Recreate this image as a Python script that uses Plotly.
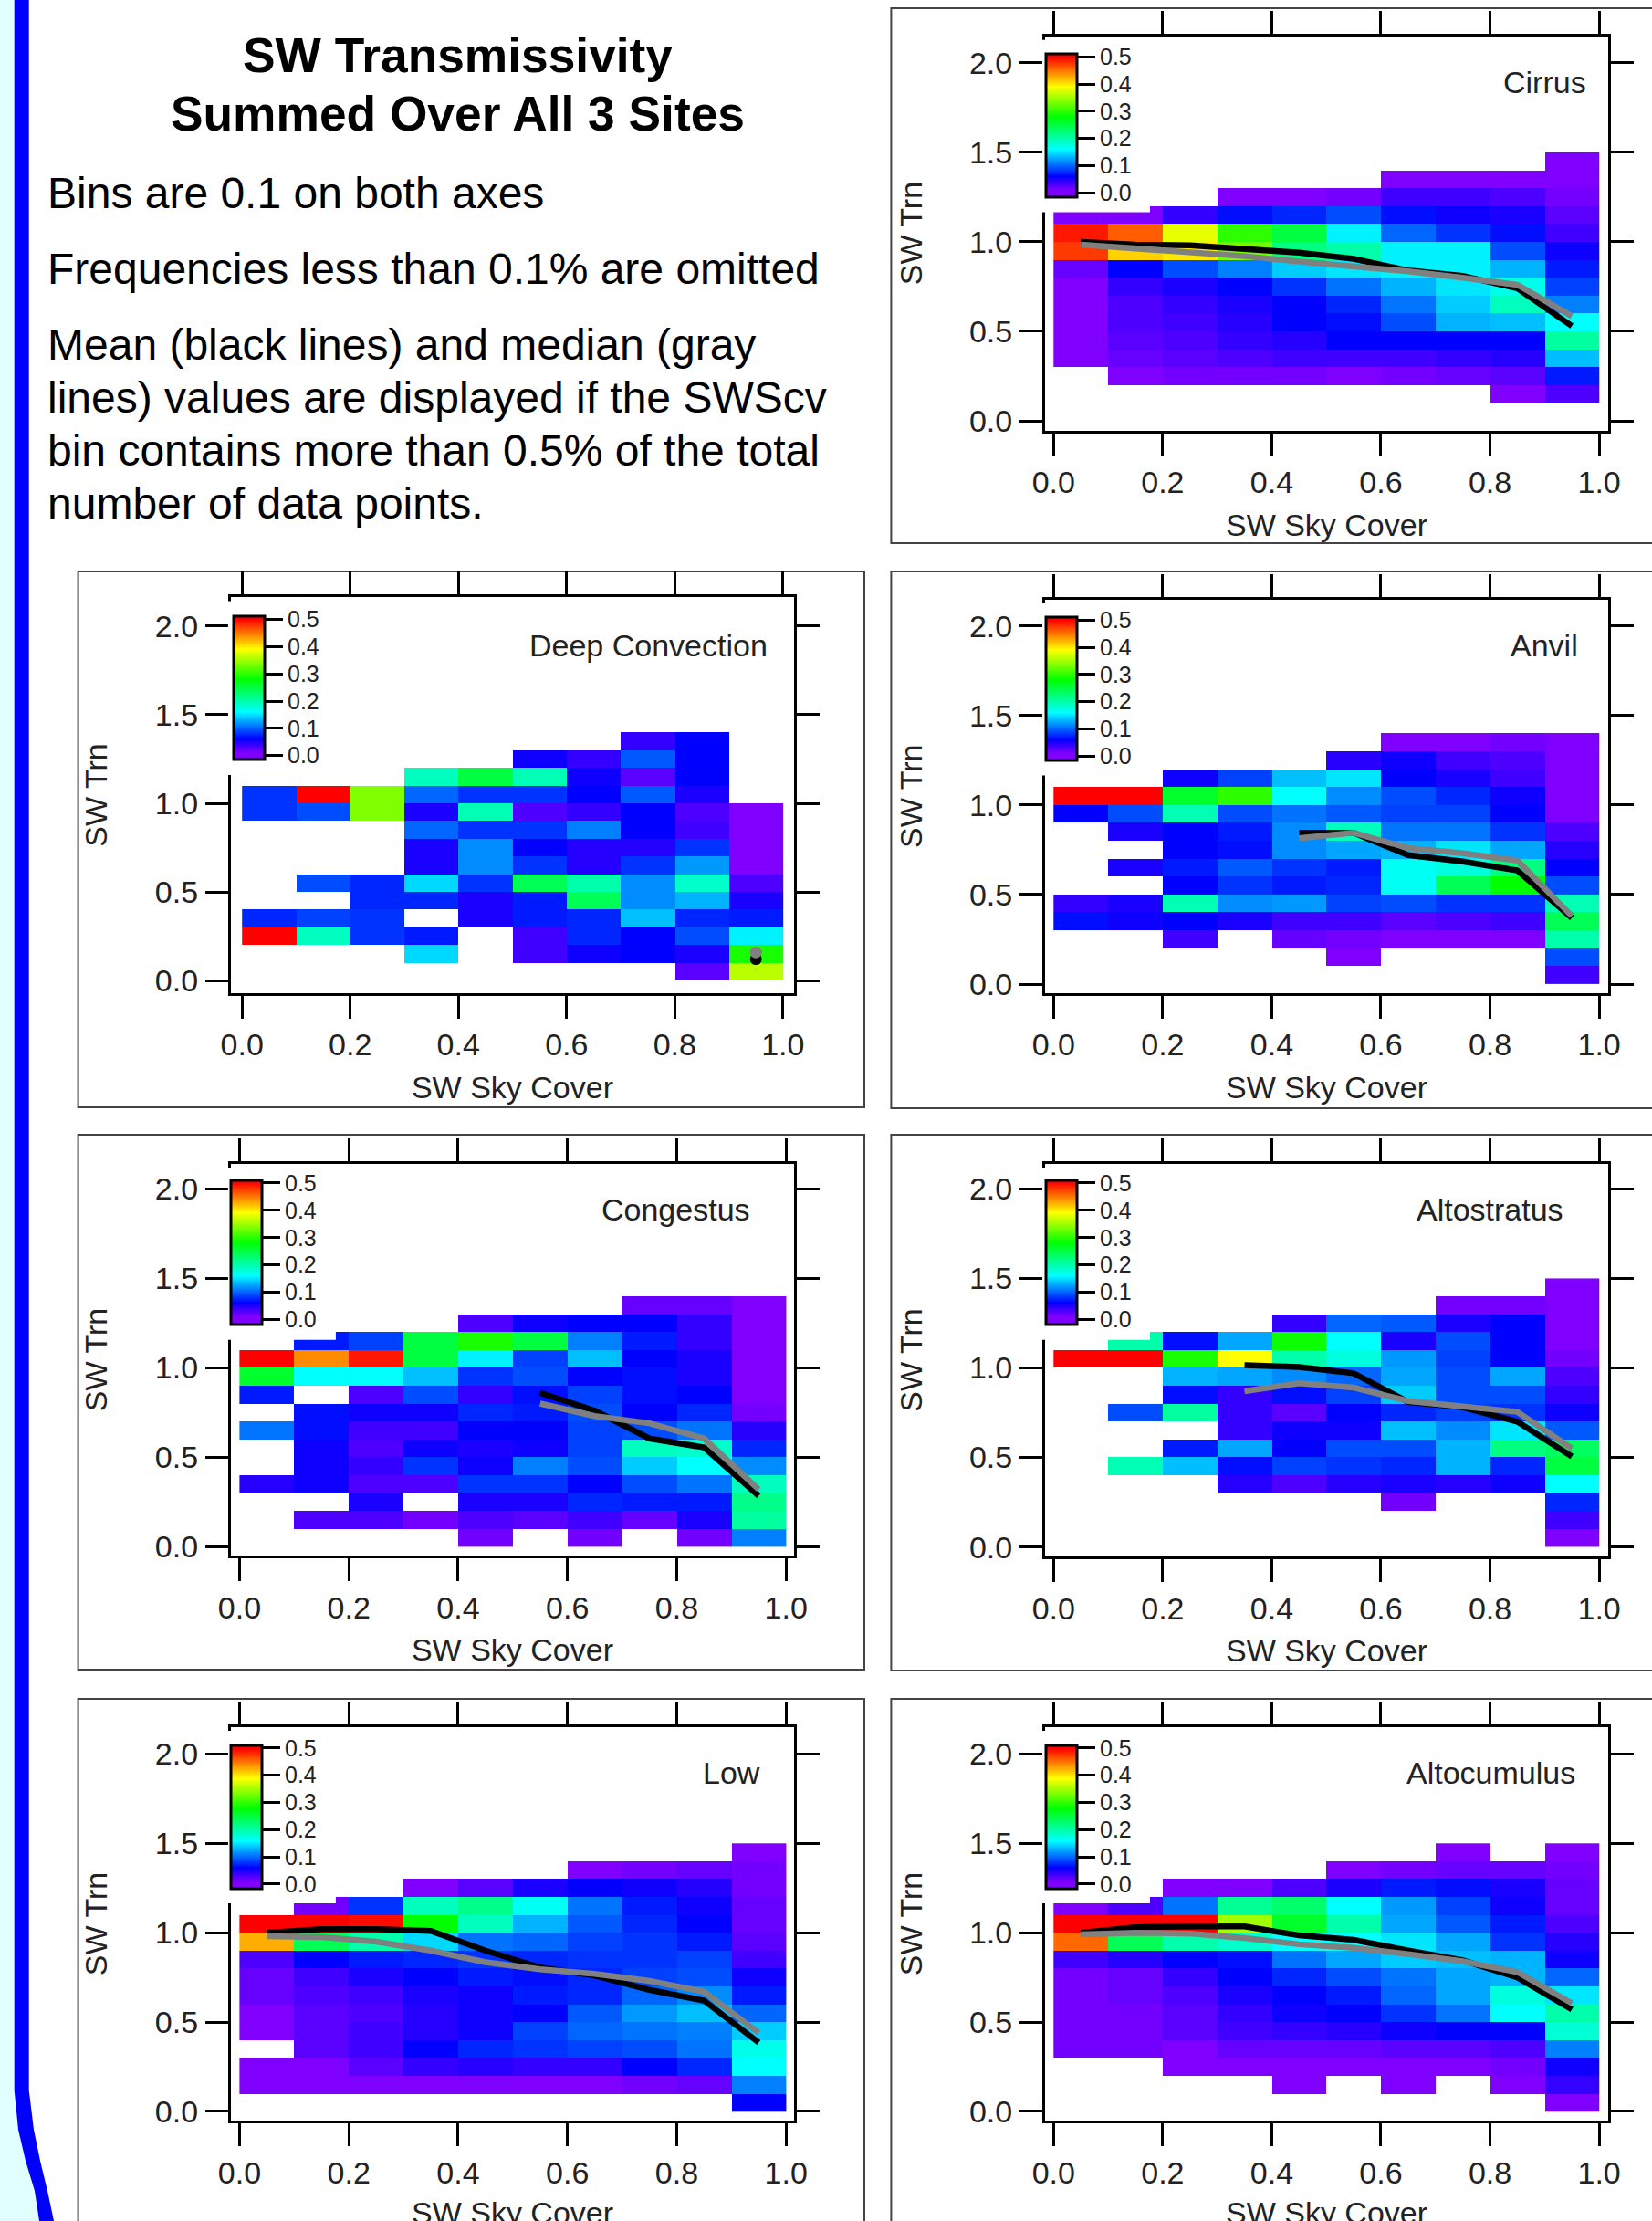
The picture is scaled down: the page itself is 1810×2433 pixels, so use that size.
import plotly.graph_objects as go

N = None
SKY_EDGES = [round(i * 0.1, 1) for i in range(11)]
TRN_EDGES = [round(i * 0.1, 1) for i in range(16)]
SKY_MID = [round(0.05 + i * 0.1, 2) for i in range(10)]
X_TICKS = [0.0, 0.2, 0.4, 0.6, 0.8, 1.0]
Y_TICKS = [0.0, 0.5, 1.0, 1.5, 2.0]
CB_TICKS = [0.0, 0.1, 0.2, 0.3, 0.4, 0.5]

# Rows run from SW Trn 1.4-1.5 (first) down to 0.0-0.1 (last)
CIRRUS = [
    [N, N, N, N, N, N, N, N, N, .01],
    [N, N, N, N, N, N, .01, .01, .01, .01],
    [N, N, N, .01, .01, .015, .035, .035, .03, .015],
    [.01, .01, .04, .065, .075, .09, .065, .055, .05, .025],
    [.49, .46, .38, .30, .25, .155, .10, .08, .065, .035],
    [.475, .41, .40, .33, .22, .20, .155, .155, .09, .055],
    [.02, .06, .09, .11, .14, .15, .155, .155, .13, .07],
    [.01, .04, .05, .06, .08, .105, .13, .15, .17, .085],
    [.01, .03, .04, .05, .06, .075, .105, .14, .19, .11],
    [.01, .03, .035, .045, .06, .065, .09, .13, .135, .16],
    [.01, .025, .03, .04, .045, .06, .06, .06, .06, .205],
    [.01, .02, .025, .03, .035, .035, .035, .04, .045, .135],
    [N, .01, .015, .015, .015, .01, .015, .02, .025, .07],
    [N, N, N, N, N, N, N, N, .01, .03],
    [N, N, N, N, N, N, N, N, N, N],
]
DEEP = [
    [N, N, N, N, N, N, N, N, N, N],
    [N, N, N, N, N, N, N, .04, .06, N],
    [N, N, N, N, N, .055, .04, .095, .06, N],
    [N, N, N, .19, .25, .195, .055, .025, .06, N],
    [.08, .5, .335, .10, .08, .08, .06, .095, .05, N],
    [.08, .09, .335, .05, .195, .03, .04, .06, .03, .01],
    [N, N, N, .10, .08, .08, .11, .06, .035, .01],
    [N, N, N, .05, .115, .06, .045, .045, .08, .01],
    [N, N, N, .05, .115, .08, .045, .08, .12, .01],
    [N, .09, .075, .145, .08, .24, .20, .115, .185, .03],
    [N, N, .075, .075, .05, .07, .24, .115, .13, .05],
    [.075, .085, .08, N, .05, .07, .075, .135, .075, .07],
    [.5, .19, .08, .07, N, .035, .075, .06, .09, .155],
    [N, N, N, .145, N, .035, .055, .06, .05, .29],
    [N, N, N, N, N, N, N, N, .025, .36],
]
ANVIL = [
    [N, N, N, N, N, N, N, N, N, N],
    [N, N, N, N, N, N, .01, .01, .015, .01],
    [N, N, N, N, N, .045, .055, .035, .03, .01],
    [N, N, .055, .085, .135, .15, .06, .05, .035, .01],
    [.5, .5, .26, .30, .16, .115, .09, .075, .055, .01],
    [.06, .09, .195, .09, .105, .095, .085, .085, .06, .01],
    [N, .05, .06, .07, .115, .19, .105, .105, .08, .03],
    [N, N, .06, .065, .115, .125, .13, .15, .125, .045],
    [N, .05, .07, .095, .08, .07, .165, .175, .22, .06],
    [N, N, .06, .08, .07, .075, .165, .24, .28, .09],
    [.04, .05, .195, .115, .12, .085, .09, .08, .08, .195],
    [.065, .055, .06, .05, .035, .035, .025, .03, .035, .24],
    [N, N, .035, N, .02, .015, .01, .01, .01, .20],
    [N, N, N, N, N, .01, N, N, N, .09],
    [N, N, N, N, N, N, N, N, N, .035],
]
CONGESTUS = [
    [N, N, N, N, N, N, N, N, N, N],
    [N, N, N, N, N, N, N, .02, .02, .01],
    [N, N, N, N, .03, .055, .06, .06, .04, .01],
    [N, .07, .085, .25, .29, .25, .11, .07, .04, .01],
    [.5, .44, .49, .25, .155, .085, .135, .06, .05, .01],
    [.26, .16, .16, .135, .08, .09, .06, .065, .05, .01],
    [.07, N, .03, .09, .04, .065, .085, .065, .06, .01],
    [N, .065, .055, .055, .075, .07, .09, .06, .075, .015],
    [.105, .065, .035, .035, .06, .06, .085, .09, .105, .045],
    [N, .055, .03, .055, .05, .055, .085, .19, .185, .075],
    [N, .055, .04, .08, .055, .11, .09, .14, .16, .115],
    [.045, .055, .03, .03, .08, .08, .06, .09, .105, .19],
    [N, N, .05, N, .05, .05, .075, .07, .07, .215],
    [N, .03, .03, .015, .03, .025, .035, .02, .05, .205],
    [N, N, N, N, .015, N, .015, N, .015, .11],
]
ALTOSTRATUS = [
    [N, N, N, N, N, N, N, N, N, .01],
    [N, N, N, N, N, N, N, .015, .015, .01],
    [N, N, N, N, .04, .10, .095, .05, .06, .01],
    [N, .20, .065, .125, .285, .16, .05, .09, .06, .01],
    [.5, .5, .29, .39, .20, .175, .12, .085, .06, .015],
    [N, N, .13, .125, .115, .10, .125, .09, .125, .03],
    [N, N, .065, .04, .065, .085, .14, .09, .09, .04],
    [N, .09, .205, .04, .025, .06, .075, .085, .08, .055],
    [N, N, N, .04, .055, .055, .135, .115, .15, .095],
    [N, N, .07, .125, .06, .09, .09, .13, .22, .235],
    [N, .195, .135, .065, .085, .08, .075, .13, .075, .25],
    [N, N, N, .045, .03, .045, .05, .045, .055, .16],
    [N, N, N, N, N, N, .015, N, N, .075],
    [N, N, N, N, N, N, N, N, N, .035],
    [N, N, N, N, N, N, N, N, N, .01],
]
LOW = [
    [N, N, N, N, N, N, N, N, N, .01],
    [N, N, N, N, N, N, .01, .015, .02, .015],
    [N, N, N, .01, .025, .05, .06, .055, .045, .015],
    [N, .015, .08, .19, .215, .165, .105, .07, .055, .02],
    [.5, .5, .495, .28, .19, .13, .095, .075, .06, .02],
    [.425, .24, .20, .145, .105, .10, .085, .08, .07, .025],
    [.03, .06, .07, .075, .08, .075, .08, .08, .085, .035],
    [.02, .035, .05, .06, .07, .065, .075, .085, .09, .055],
    [.02, .03, .035, .05, .055, .07, .075, .10, .115, .07],
    [.01, .025, .03, .045, .055, .06, .095, .12, .135, .10],
    [.01, .025, .035, .045, .055, .085, .10, .105, .11, .14],
    [N, .025, .035, .06, .075, .08, .085, .09, .105, .17],
    [.01, .01, .025, .04, .045, .04, .04, .06, .075, .16],
    [.01, .01, .01, .01, .01, .01, .01, .015, .02, .11],
    [N, N, N, N, N, N, N, N, N, .06],
]
ALTOCUMULUS = [
    [N, N, N, N, N, N, N, .01, N, .01],
    [N, N, N, N, N, .01, .015, .02, .02, .015],
    [N, N, .01, .01, .03, .05, .07, .065, .05, .02],
    [.01, .03, .105, .21, .23, .16, .12, .085, .055, .02],
    [.5, .5, .5, .35, .26, .20, .125, .095, .07, .03],
    [.455, .24, .20, .185, .16, .16, .15, .125, .08, .045],
    [.035, .045, .06, .065, .105, .125, .14, .135, .13, .055],
    [.015, .02, .04, .06, .075, .09, .105, .125, .13, .10],
    [.015, .02, .03, .05, .06, .07, .10, .125, .175, .15],
    [.015, .015, .025, .04, .055, .06, .08, .105, .16, .20],
    [.015, .015, .025, .035, .04, .045, .055, .06, .06, .18],
    [.015, .015, .01, .02, .02, .02, .025, .025, .03, .11],
    [N, N, .01, .01, .01, .01, .01, .01, .015, .055],
    [N, N, N, N, .01, N, .01, N, .01, .04],
    [N, N, N, N, N, N, N, N, N, .01],
]

CIRRUS_MEAN = [1.0, .985, .98, .96, .94, .905, .84, .81, .74, .53]
CIRRUS_MEDIAN = [.985, .965, .945, .92, .89, .865, .835, .80, .76, .585]
DEEP_MEAN = [N, N, N, N, N, N, N, N, N, .122]
DEEP_MEDIAN = [N, N, N, N, N, N, N, N, N, .16]
ANVIL_MEAN = [N, N, N, N, .845, .845, .72, .685, .635, .37]
ANVIL_MEDIAN = [N, N, N, N, .815, .845, .76, .73, .69, .38]
CONGESTUS_MEAN = [N, N, N, N, N, .86, .76, .605, .555, .285]
CONGESTUS_MEDIAN = [N, N, N, N, N, .80, .73, .69, .605, .32]
ALTOSTRATUS_MEAN = [N, N, N, 1.015, 1.005, .97, .81, .78, .70, .505]
ALTOSTRATUS_MEDIAN = [N, N, N, .87, .915, .89, .815, .785, .755, .55]
LOW_MEAN = [1.0, 1.02, 1.02, 1.01, .90, .805, .76, .68, .62, .385]
LOW_MEDIAN = [.98, .975, .95, .90, .835, .795, .77, .73, .67, .44]
ALTOCUMULUS_MEAN = [1.0, 1.03, 1.035, 1.035, .985, .96, .90, .845, .75, .57]
ALTOCUMULUS_MEDIAN = [.99, 1.0, .995, .97, .935, .915, .88, .84, .78, .605]

# Colour stops: frequency value and colour
STOP_VALUES = [0.01, 0.06, 0.16, 0.28, 0.39, 0.5]
STOP_COLORS = ["#8000ff", "#0000ff", "#00ffff", "#00ff00", "#ffff00", "#ff0000"]
ZMIN, ZMAX = -0.016, 0.511

TITLE_LINES = ["SW Transmissivity", "Summed Over All 3 Sites"]
BODY_LINES = [
    "Bins are 0.1 on both axes",
    "Frequencies less than 0.1% are omitted",
    "Mean (black lines) and median (gray",
    "lines) values are displayed if the SWScv",
    "bin contains more than 0.5% of the total",
    "number of data points.",
]

W, H = 1810, 2433
FONT = "Liberation Sans"
TXT = "#222222"


def px(x):
    return x / W


def py(y):
    return 1 - y / H


# name, z, mean, median, box(l,r,t,b), x0px, x1px, y2px, y0px, frame(l,t,r,b),
# label right edge, label y, colourbar(left, top, bottom), spine start, x-title y (bottom row only)
PANELS = [
    ("Cirrus", CIRRUS, CIRRUS_MEAN, CIRRUS_MEDIAN, (1145, 1762, 39.7, 471.5), 1154.3, 1752.1, 68.9, 461,
     (976.4, 9, 1830, 595), 1740, 89.5, 1145.7, 59, 216, 232.6, None),
    ("Deep Convection", DEEP, DEEP_MEAN, DEEP_MEDIAN, (252.9, 870, 654.4, 1087.6), 265.2, 857.8, 685.8, 1074.3,
     (85.6, 626, 947, 1213), 843, 707.3, 255.7, 675.5, 832.4, 849, None),
    ("Anvil", ANVIL, ANVIL_MEAN, ANVIL_MEDIAN, (1145, 1762, 657, 1087.6), 1154.3, 1752.1, 685.8, 1078,
     (976.4, 626, 1830, 1214), 1731, 707.3, 1145.7, 676, 833, 849.6, None),
    ("Congestus", CONGESTUS, CONGESTUS_MEAN, CONGESTUS_MEDIAN, (252.9, 870, 1275, 1704), 262.4, 861.2, 1302.4, 1694.3,
     (85.6, 1243, 947, 1829), 824, 1324.5, 252.9, 1292.8, 1450.5, 1467.7, None),
    ("Altostratus", ALTOSTRATUS, ALTOSTRATUS_MEAN, ALTOSTRATUS_MEDIAN, (1145, 1762, 1275, 1705), 1154.3, 1752.1, 1302.4, 1694.6,
     (976.4, 1243, 1830, 1830), 1715, 1324.5, 1145.7, 1292.8, 1450.5, 1467.7, None),
    ("Low", LOW, LOW_MEAN, LOW_MEDIAN, (252.9, 870, 1892, 2323), 262.4, 861.2, 1921.4, 2312.9,
     (85.6, 1861, 947, 2460), 835, 1941.5, 252.9, 1911.3, 2068.6, 2085, 2424),
    ("Altocumulus", ALTOCUMULUS, ALTOCUMULUS_MEAN, ALTOCUMULUS_MEDIAN, (1145, 1762, 1892, 2323), 1154.3, 1752.1, 1921.4, 2312.9,
     (976.4, 1861, 1830, 2460), 1728, 1941.5, 1145.7, 1911.3, 2068.6, 2085, 2424),
]

scale = [[(v - ZMIN) / (ZMAX - ZMIN), c] for v, c in zip(STOP_VALUES, STOP_COLORS)]
scale = [[0, STOP_COLORS[0]]] + scale + [[1, STOP_COLORS[-1]]]

fig = go.Figure()
layout = {}
shapes = []
annotations = []

# Page background strip
BLUE_LEFT = [(0, 0), (15.7, 0), (15.7, 2290), (16.7, 2300), (20, 2333), (28, 2367), (38, 2400), (43, 2433), (0, 2433)]
BLUE_RIGHT = [(15.7, 0), (31.7, 0), (31.7, 2290), (33, 2300), (37, 2333), (44, 2367), (52, 2400), (59, 2433),
              (43, 2433), (38, 2400), (28, 2367), (20, 2333), (16.7, 2300), (15.7, 2290)]


def path(points):
    return "M" + " L".join(f"{px(x):.5f},{py(y):.5f}" for x, y in points) + " Z"


shapes.append(dict(type="path", xref="paper", yref="paper", path=path(BLUE_LEFT),
                   fillcolor="#e2ffff", line_width=0, layer="below"))
shapes.append(dict(type="path", xref="paper", yref="paper", path=path(BLUE_RIGHT),
                   fillcolor="#0000ff", line_width=0, layer="below"))

for i, p in enumerate(PANELS):
    name, z, mean, median, box, x0p, x1p, y2p, y0p, frame, lab_r, lab_y, cb_l, cb_t, cb_b, spine, xt_y = p
    n = "" if i == 0 else str(i + 1)
    xa, ya = "x" + n, "y" + n
    l, r, t, b = box
    xs = x1p - x0p
    ys = (y0p - y2p) / 2
    xr = [(l - x0p) / xs, (r - x0p) / xs]
    yr = [(y0p - b) / ys, (y0p - t) / ys]

    shapes.append(dict(type="rect", xref="paper", yref="paper", x0=px(frame[0]), x1=px(frame[2]),
                       y0=py(frame[3]), y1=py(frame[1]), line=dict(color="#444444", width=2),
                       fillcolor="white", layer="below"))

    fig.add_trace(go.Heatmap(
        x=SKY_EDGES, y=TRN_EDGES, z=[row for row in reversed(z)], xaxis=xa, yaxis=ya,
        zmin=ZMIN, zmax=ZMAX, colorscale=scale, hoverongaps=False,
        colorbar=dict(
            x=px(cb_l), xanchor="left", y=py(cb_b), yanchor="bottom",
            lenmode="pixels", len=cb_b - cb_t, thicknessmode="pixels", thickness=34,
            xpad=0, ypad=0, outlinecolor="black", outlinewidth=3,
            ticks="outside", ticklen=19, tickwidth=3, tickcolor="black",
            tickvals=CB_TICKS, tickformat=".1f", tickprefix="\u2009",
            tickfont=dict(family=FONT, size=25, color=TXT),
        ),
    ))
    fig.add_trace(go.Scatter(x=SKY_MID, y=mean, mode="lines+markers" if i == 1 else "lines", xaxis=xa, yaxis=ya,
                             line=dict(color="black", width=6.5), marker=dict(color="black", size=13),
                             showlegend=False, connectgaps=False))
    fig.add_trace(go.Scatter(x=SKY_MID, y=median, mode="lines+markers" if i == 1 else "lines", xaxis=xa, yaxis=ya,
                             line=dict(color="#808080", width=6.5), marker=dict(color="#808080", size=13),
                             showlegend=False, connectgaps=False))

    axis_common = dict(
        showgrid=False, zeroline=False, showline=True, linecolor="black", linewidth=3,
        mirror="ticks", ticks="outside", ticklen=25, tickwidth=3, tickcolor="black",
        tickfont=dict(family=FONT, size=34, color=TXT), tickformat=".1f",
    )
    x_axis = dict(
        axis_common, domain=[px(l), px(r)], range=xr, anchor=ya, tickvals=X_TICKS,
        ticklabelstandoff=0,
    )
    if xt_y is None:
        x_axis["title"] = dict(text="SW Sky Cover", font=dict(family=FONT, size=34, color=TXT), standoff=17)
    else:
        # Bottom row: the label runs to the page edge, so it is placed directly
        annotations.append(dict(text="SW Sky Cover", xref="paper", yref="paper", x=px((l + r) / 2), y=py(xt_y),
                                xanchor="center", yanchor="middle", showarrow=False,
                                font=dict(family=FONT, size=34, color=TXT)))
    layout["xaxis" + n] = x_axis
    layout["yaxis" + n] = dict(
        axis_common, domain=[py(b), py(t)], range=yr, anchor=xa, tickvals=Y_TICKS,
        ticklabelstandoff=1,
        title=dict(text="SW Trn", font=dict(family=FONT, size=34, color=TXT), standoff=42),
    )
    # White inset that carries the colour bar and hides the left spine
    shapes.append(dict(type="rect", xref="paper", yref="paper", x0=px(l - 3), x1=px(l + 115),
                       y0=py(spine), y1=py(t + 4), fillcolor="white", line_width=0, layer="above"))
    annotations.append(dict(text=name, xref="paper", yref="paper", x=px(lab_r), y=py(lab_y),
                            xanchor="right", yanchor="middle", showarrow=False,
                            font=dict(family=FONT, size=34, color=TXT)))

for text, yy in zip(TITLE_LINES, [60.5, 124.5]):
    annotations.append(dict(text="<b>" + text + "</b>", xref="paper", yref="paper", x=px(502), y=py(yy),
                            xanchor="center", yanchor="middle", showarrow=False,
                            font=dict(family=FONT, size=53.3, color="black")))
for text, yy in zip(BODY_LINES, [212, 295, 378, 435, 494, 551]):
    annotations.append(dict(text=text, xref="paper", yref="paper", x=px(50), y=py(yy),
                            xanchor="left", yanchor="middle", showarrow=False,
                            font=dict(family=FONT, size=48, color="black")))

fig.update_layout(
    width=W, height=H, autosize=False,
    margin=dict(l=0, r=0, t=0, b=0, pad=0, autoexpand=False),
    paper_bgcolor="white", plot_bgcolor="white",
    showlegend=False, shapes=shapes, annotations=annotations,
    font=dict(family=FONT),
    **layout,
)

fig.write_html("out.html", config={"displayModeBar": False},
               post_script="document.body.style.margin='0';document.body.style.overflow='hidden';")
